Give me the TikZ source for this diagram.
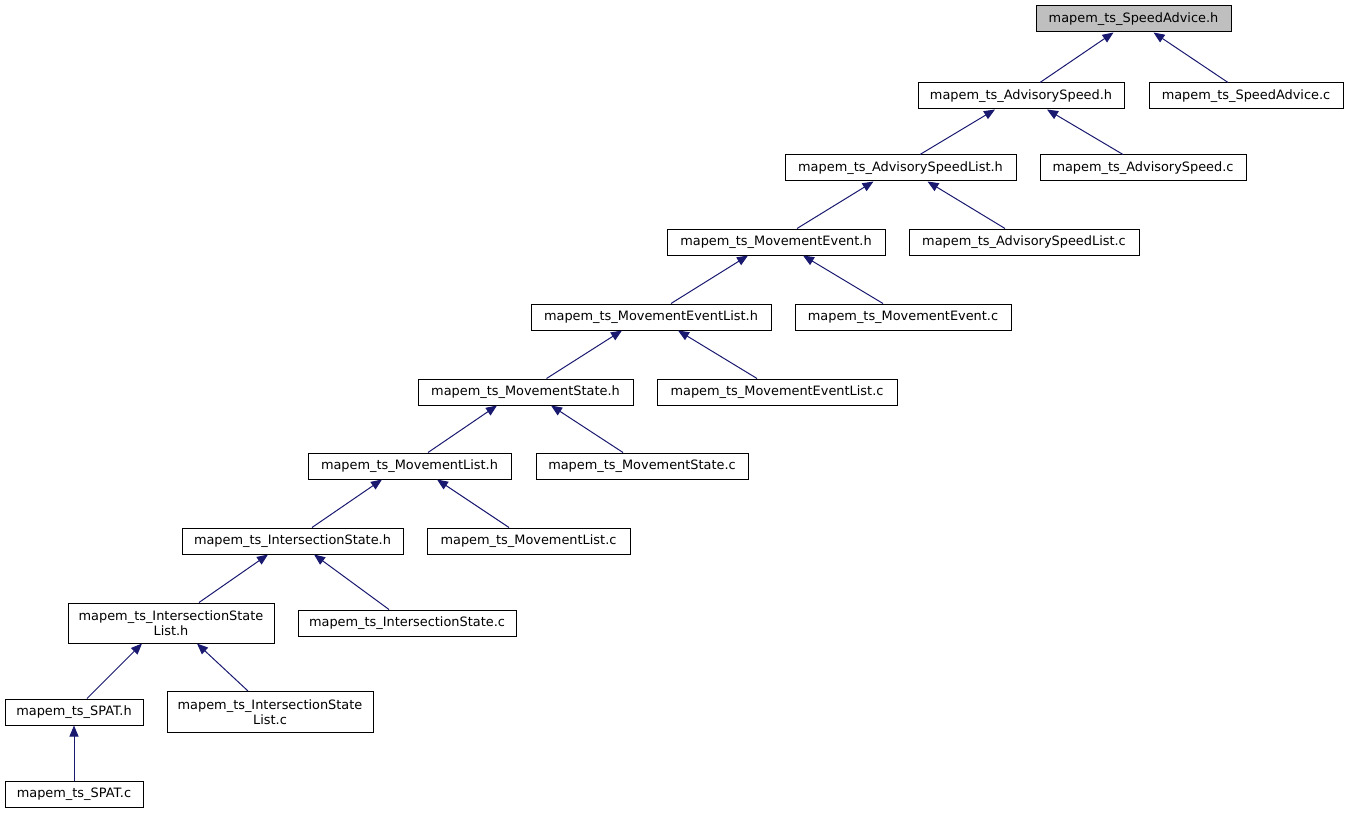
\documentclass[tikz,border=0pt]{standalone}
\usepackage{fontspec}
\setmainfont{DejaVu Sans}
\usetikzlibrary{arrows.meta}
\definecolor{navy}{HTML}{191970}
\definecolor{focusgray}{HTML}{BFBFBF}

\begin{document}
\begin{tikzpicture}[x=1pt, y=-1pt,
  file/.style={draw=black, line width=1pt, inner sep=0pt, minimum height=26pt,
    align=center, font=\fontsize{12.9}{14.4}\selectfont},
  focus/.style={file, fill=focusgray},
  dep/.style={draw=navy, line width=1pt, -{Triangle[length=11pt, width=9pt]}}]
  \useasboundingbox (0,0) rectangle (1348,813);

  % files, row by row
  \node[focus, minimum width=195pt] (spdh) at (1133.5,19) {mapem\_ts\_SpeedAdvice.h};
  \node[file, minimum width=206pt] (advh) at (1021,96) {mapem\_ts\_AdvisorySpeed.h};
  \node[file, minimum width=194pt] (spdc) at (1246,96) {mapem\_ts\_SpeedAdvice.c};
  \node[file, minimum width=231pt] (advlh) at (900.5,168) {mapem\_ts\_AdvisorySpeedList.h};
  \node[file, minimum width=206pt] (advc) at (1143,168) {mapem\_ts\_AdvisorySpeed.c};
  \node[file, minimum width=218pt] (meh) at (776,242) {mapem\_ts\_MovementEvent.h};
  \node[file, minimum width=230pt] (advlc) at (1024,242) {mapem\_ts\_AdvisorySpeedList.c};
  \node[file, minimum width=240pt] (melh) at (651,317) {mapem\_ts\_MovementEventList.h};
  \node[file, minimum width=216pt] (mec) at (903,317) {mapem\_ts\_MovementEvent.c};
  \node[file, minimum width=215pt] (msh) at (525.5,392) {mapem\_ts\_MovementState.h};
  \node[file, minimum width=240pt] (melc) at (777,392) {mapem\_ts\_MovementEventList.c};
  \node[file, minimum width=203pt] (mlh) at (409.5,466) {mapem\_ts\_MovementList.h};
  \node[file, minimum width=212pt] (msc) at (642,466) {mapem\_ts\_MovementState.c};
  \node[file, minimum width=221pt] (ish) at (292.5,541) {mapem\_ts\_IntersectionState.h};
  \node[file, minimum width=203pt] (mlc) at (528.5,541) {mapem\_ts\_MovementList.c};
  \node[file, minimum width=206pt, minimum height=40pt] (islh) at (171,623) {mapem\_ts\_IntersectionState\\List.h};
  \node[file, minimum width=218pt] (isc) at (407,623) {mapem\_ts\_IntersectionState.c};
  \node[file, minimum width=138pt] (spath) at (74,712) {mapem\_ts\_SPAT.h};
  \node[file, minimum width=206pt, minimum height=41pt] (islc) at (270,712) {mapem\_ts\_IntersectionState\\List.c};
  \node[file, minimum width=138pt] (spatc) at (74,794) {mapem\_ts\_SPAT.c};

  % include edges, child to parent
  \draw[dep] ([xshift=19pt]advh.north) -- ([xshift=-20pt]spdh.south);
  \draw[dep] ([xshift=-18pt]spdc.north) -- ([xshift=20pt]spdh.south);
  \draw[dep] ([xshift=19.5pt]advlh.north) -- ([xshift=-26pt]advh.south);
  \draw[dep] ([xshift=-20pt]advc.north) -- ([xshift=26pt]advh.south);
  \draw[dep] ([xshift=21pt]meh.north) -- ([xshift=-27pt]advlh.south);
  \draw[dep] ([xshift=-19pt]advlc.north) -- ([xshift=27pt]advlh.south);
  \draw[dep] ([xshift=20pt]melh.north) -- ([xshift=-28pt]meh.south);
  \draw[dep] ([xshift=-20pt]mec.north) -- ([xshift=27pt]meh.south);
  \draw[dep] ([xshift=21pt]msh.north) -- ([xshift=-29pt]melh.south);
  \draw[dep] ([xshift=-20pt]melc.north) -- ([xshift=27pt]melh.south);
  \draw[dep] ([xshift=18.5pt]mlh.north) -- ([xshift=-28.5pt]msh.south);
  \draw[dep] ([xshift=-19pt]msc.north) -- ([xshift=25.5pt]msh.south);
  \draw[dep] ([xshift=19.5pt]ish.north) -- ([xshift=-27.5pt]mlh.south);
  \draw[dep] ([xshift=-19.5pt]mlc.north) -- ([xshift=27.5pt]mlh.south);
  \draw[dep] ([xshift=28pt]islh.north) -- ([xshift=-24.5pt]ish.south);
  \draw[dep] ([xshift=-18pt]isc.north) -- ([xshift=21.5pt]ish.south);
  \draw[dep] ([xshift=13pt]spath.north) -- ([xshift=-29pt]islh.south);
  \draw[dep] ([xshift=-22pt]islc.north) -- ([xshift=26pt]islh.south);
  \draw[dep] (spatc) -- (spath);
\end{tikzpicture}
\end{document}
